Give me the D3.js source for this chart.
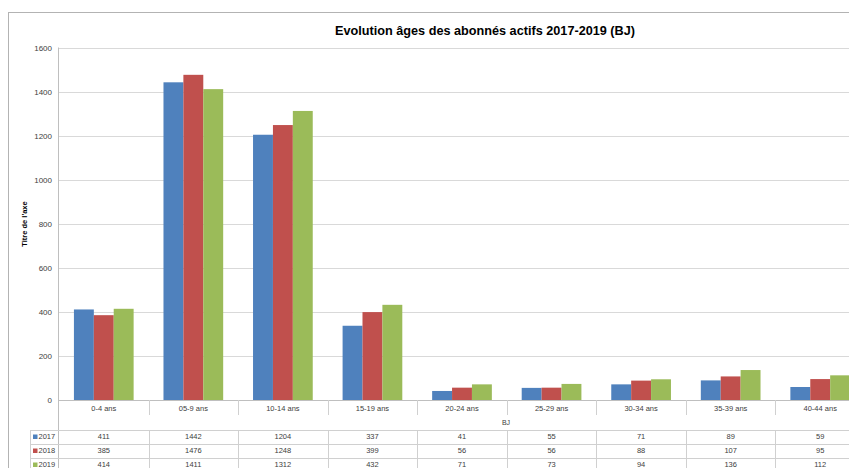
<!DOCTYPE html>
<html>
<head>
<meta charset="utf-8">
<script src="https://cdn.jsdelivr.net/npm/d3@7"></script>
<style>
  body { margin: 0; background: #fff; }
  svg { display: block; font-family: "Liberation Sans", Arial, sans-serif; }
</style>
</head>
<body>
<svg id="chart" width="849" height="468"></svg>
<script>
// data
const categories = ["0-4 ans", "05-9 ans", "10-14 ans", "15-19 ans", "20-24 ans", "25-29 ans", "30-34 ans", "35-39 ans", "40-44 ans"];
const seriesNames = ["2017", "2018", "2019"];
const values2017 = [411, 1442, 1204, 337, 41, 55, 71, 89, 59];
const values2018 = [385, 1476, 1248, 399, 56, 56, 88, 107, 95];
const values2019 = [414, 1411, 1312, 432, 71, 73, 94, 136, 112];
const yTicks = [0, 200, 400, 600, 800, 1000, 1200, 1400, 1600];
const colors = ["#4f81bd", "#c0504d", "#9bbb59"];

const series = [values2017, values2018, values2019];

let svg = d3.select("#chart");

// outer chart frame (runs off the right and bottom edges)
svg.append("rect")
    .attr("x", 8.5)
    .attr("y", 12.5)
    .attr("width", 900)
    .attr("height", 500)
    .attr("fill", "none")
    .attr("stroke", "#b3b3b3")
    .attr("stroke-width", 1);

// title
svg.append("text")
    .attr("x", 485)
    .attr("y", 35)
    .attr("text-anchor", "middle")
    .style("font-size", "13.5px")
    .style("font-weight", "bold")
    .attr("fill", "#000")
    .attr("textLength", 300)
    .attr("lengthAdjust", "spacingAndGlyphs")
    .text("Evolution âges des abonnés actifs 2017-2019 (BJ)");

let x = d3.scaleBand()
    .domain(categories)
    .range([59, 865])
    .padding(0);

let bw = x.bandwidth();
let xs = d3.scaleBand()
    .domain(seriesNames)
    .range([bw / 6, bw * 5 / 6])
    .padding(0);

let y = d3.scaleLinear()
    .domain([0, 1600])
    .range([400, 47.5]);

// gridlines
svg.append("g")
    .selectAll("line")
    .data(yTicks.filter(d => d > 0))
    .join("line")
    .attr("x1", 59)
    .attr("x2", 865)
    .attr("y1", d => Math.round(y(d)) + 0.5)
    .attr("y2", d => Math.round(y(d)) + 0.5)
    .attr("stroke", "#d9d9d9");

// y tick labels
let yAxis = d3.axisLeft(y).tickValues(yTicks).tickFormat(d3.format("d")).tickSize(0).tickPadding(7);
let yg = svg.append("g")
    .attr("transform", "translate(59,0)")
    .call(yAxis);
yg.select(".domain").remove();
yg.selectAll("text")
    .style("font-size", "8px")
    .style("font-family", "Liberation Sans, Arial, sans-serif")
    .attr("fill", "#404040");

// y axis title
svg.append("text")
    .attr("transform", "translate(27,224) rotate(-90)")
    .attr("text-anchor", "middle")
    .style("font-size", "7.5px")
    .style("font-weight", "bold")
    .attr("fill", "#000")
    .text("Titre de l'axe");

// bars
let groups = svg.append("g")
    .selectAll("g")
    .data(series)
    .join("g")
    .attr("fill", (d, i) => colors[i]);

groups.selectAll("rect")
    .data((d, i) => d.map((v, j) => ({ cat: categories[j], name: seriesNames[i], value: v })))
    .join("rect")
    .attr("x", d => x(d.cat) + xs(d.name))
    .attr("y", d => y(d.value))
    .attr("width", xs.bandwidth())
    .attr("height", d => y(0) - y(d.value));

// axis lines
svg.append("line")
    .attr("x1", 58.5).attr("x2", 58.5)
    .attr("y1", 47.5).attr("y2", 472)
    .attr("stroke", "#bfbfbf");

svg.append("line")
    .attr("x1", 59).attr("x2", 865)
    .attr("y1", 400.5).attr("y2", 400.5)
    .attr("stroke", "#bfbfbf");

// category separators below the axis
svg.append("g")
    .selectAll("line")
    .data(categories.slice(1))
    .join("line")
    .attr("x1", d => Math.round(x(d)) + 0.5)
    .attr("x2", d => Math.round(x(d)) + 0.5)
    .attr("y1", 400)
    .attr("y2", 415)
    .attr("stroke", "#d0d0d0");

// category labels
svg.append("g")
    .selectAll("text")
    .data(categories)
    .join("text")
    .attr("x", d => x(d) + bw / 2)
    .attr("y", 411)
    .attr("text-anchor", "middle")
    .style("font-size", "7.5px")
    .attr("fill", "#404040")
    .text(d => d);

// x axis title
svg.append("text")
    .attr("x", 506)
    .attr("y", 425)
    .attr("text-anchor", "middle")
    .style("font-size", "7px")
    .attr("fill", "#404040")
    .text("BJ");

// data table
const tableTop = 430;
const rowH = 14;

svg.append("g")
    .selectAll("line")
    .data(d3.range(series.length + 1))
    .join("line")
    .attr("x1", 30)
    .attr("x2", 865)
    .attr("y1", d => tableTop + d * rowH + 0.5)
    .attr("y2", d => tableTop + d * rowH + 0.5)
    .attr("stroke", "#d0d0d0");

svg.append("line")
    .attr("x1", 30.5).attr("x2", 30.5)
    .attr("y1", tableTop).attr("y2", tableTop + rowH * 3)
    .attr("stroke", "#d0d0d0");

svg.append("g")
    .selectAll("line")
    .data(categories.slice(1))
    .join("line")
    .attr("x1", d => Math.round(x(d)) + 0.5)
    .attr("x2", d => Math.round(x(d)) + 0.5)
    .attr("y1", tableTop)
    .attr("y2", tableTop + rowH * 3)
    .attr("stroke", "#d0d0d0");

let rows = svg.append("g")
    .selectAll("g")
    .data(series)
    .join("g")
    .attr("transform", (d, i) => `translate(0,${tableTop + i * rowH})`);

rows.append("rect")
    .attr("x", 33)
    .attr("y", 4.5)
    .attr("width", 4.5)
    .attr("height", 4.5)
    .attr("fill", (d, i) => colors[i]);

rows.append("text")
    .attr("x", 38.5)
    .attr("y", 9.3)
    .style("font-size", "7.5px")
    .attr("fill", "#404040")
    .text((d, i) => seriesNames[i]);

rows.selectAll("text.val")
    .data(d => d.map((v, j) => ({ cat: categories[j], value: v })))
    .join("text")
    .attr("class", "val")
    .attr("x", d => x(d.cat) + bw / 2)
    .attr("y", 9.3)
    .attr("text-anchor", "middle")
    .style("font-size", "7.5px")
    .attr("fill", "#404040")
    .text(d => d.value);
</script>
</body>
</html>
